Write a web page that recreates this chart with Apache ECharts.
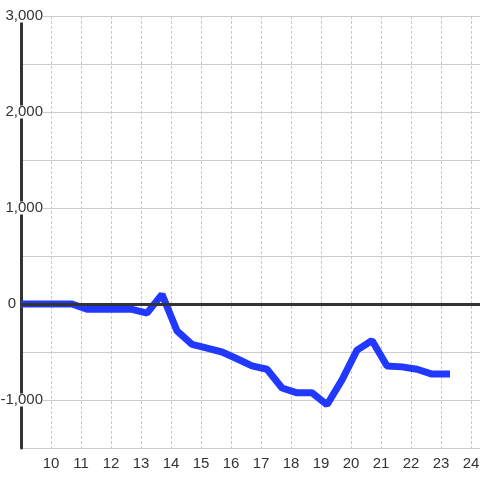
<!DOCTYPE html>
<html>
<head>
<meta charset="utf-8">
<script src="https://cdn.jsdelivr.net/npm/echarts@6/dist/echarts.min.js"></script>
<style>
html,body{margin:0;padding:0;background:#fff;}
#chart{width:480px;height:480px;}
</style>
</head>
<body>
<div id="chart"></div>
<script>
var xValues = [9, 9.7, 10.2, 10.7, 11.2, 11.7, 12.2, 12.7, 13.2, 13.7, 14.2, 14.7, 15.2, 15.7, 16.2, 16.7, 17.2, 17.7, 18.2, 18.7, 19.2, 19.7, 20.2, 20.7, 21.2, 21.7, 22.2, 22.7, 23.3];
var yValues = [0, 0, 0, 0, -55, -55, -55, -55, -95, 100, -280, -420, -460, -500, -570, -645, -680, -875, -925, -925, -1050, -790, -480, -380, -645, -655, -680, -730, -730];
var yTickLabels = [-1000, 0, 1000, 2000, 3000];

var chart = echarts.init(document.getElementById('chart'), null, {renderer: 'canvas'});
var pts = xValues.map(function (x, i) { return [x, yValues[i]]; });
function fmt(v) {
  var s = Math.abs(v).toString().replace(/\B(?=(\d{3})+(?!\d))/g, ',');
  return (v < 0 ? '-' : '') + s;
}
chart.setOption({
  backgroundColor: '#ffffff',
  animation: false,
  textStyle: {fontFamily: 'Liberation Sans'},
  grid: {left: 21, right: 0, top: 16, bottom: 32, containLabel: false, outerBoundsMode: 'none'},
  xAxis: {
    type: 'value', min: 9, max: 24.3, interval: 1,
    axisLine: {show: false}, axisTick: {show: false},
    splitLine: {show: true, lineStyle: {color: '#c8c8c8', width: 1, type: [3, 2]}},
    axisLabel: {
      color: '#333', fontSize: 15, margin: 8, fontFamily: 'Liberation Sans',
      showMinLabel: false,
      formatter: function (v) { return (Math.abs(v - Math.round(v)) < 1e-6 && v > 9) ? String(Math.round(v)) : ''; }
    }
  },
  yAxis: {
    type: 'value', min: -1500, max: 3000, interval: 500,
    axisLine: {show: true, onZero: false, lineStyle: {color: '#333', width: 3}},
    axisTick: {show: false},
    splitLine: {show: true, lineStyle: {color: '#cccccc', width: 1}},
    axisLabel: {
      align: 'right', margin: -22, fontSize: 15, color: '#333', fontFamily: 'Liberation Sans',
      formatter: function (v) {
        if (yTickLabels.indexOf(v) < 0) return '';
        if (v === 0) return '{z|0}';
        return '{n|' + fmt(v) + '}';
      },
      rich: {
        n: {backgroundColor: '#ffffff', fontSize: 15, color: '#333', height: 13, lineHeight: 13, fontFamily: 'Liberation Sans'},
        z: {fontSize: 15, color: '#333', padding: [0, 27, 0, 0], fontFamily: 'Liberation Sans'}
      }
    }
  },
  series: [
    {
      type: 'line', data: pts, symbol: 'none', z: 3,
      lineStyle: {color: '#2138ff', width: 7},
      clip: false
    },
    {
      type: 'line', data: [], z: 5, symbol: 'none',
      markLine: {
        silent: true, symbol: 'none', label: {show: false},
        lineStyle: {color: '#333', width: 3, type: 'solid'},
        data: [{yAxis: 0}]
      }
    }
  ]
});
</script>
</body>
</html>
